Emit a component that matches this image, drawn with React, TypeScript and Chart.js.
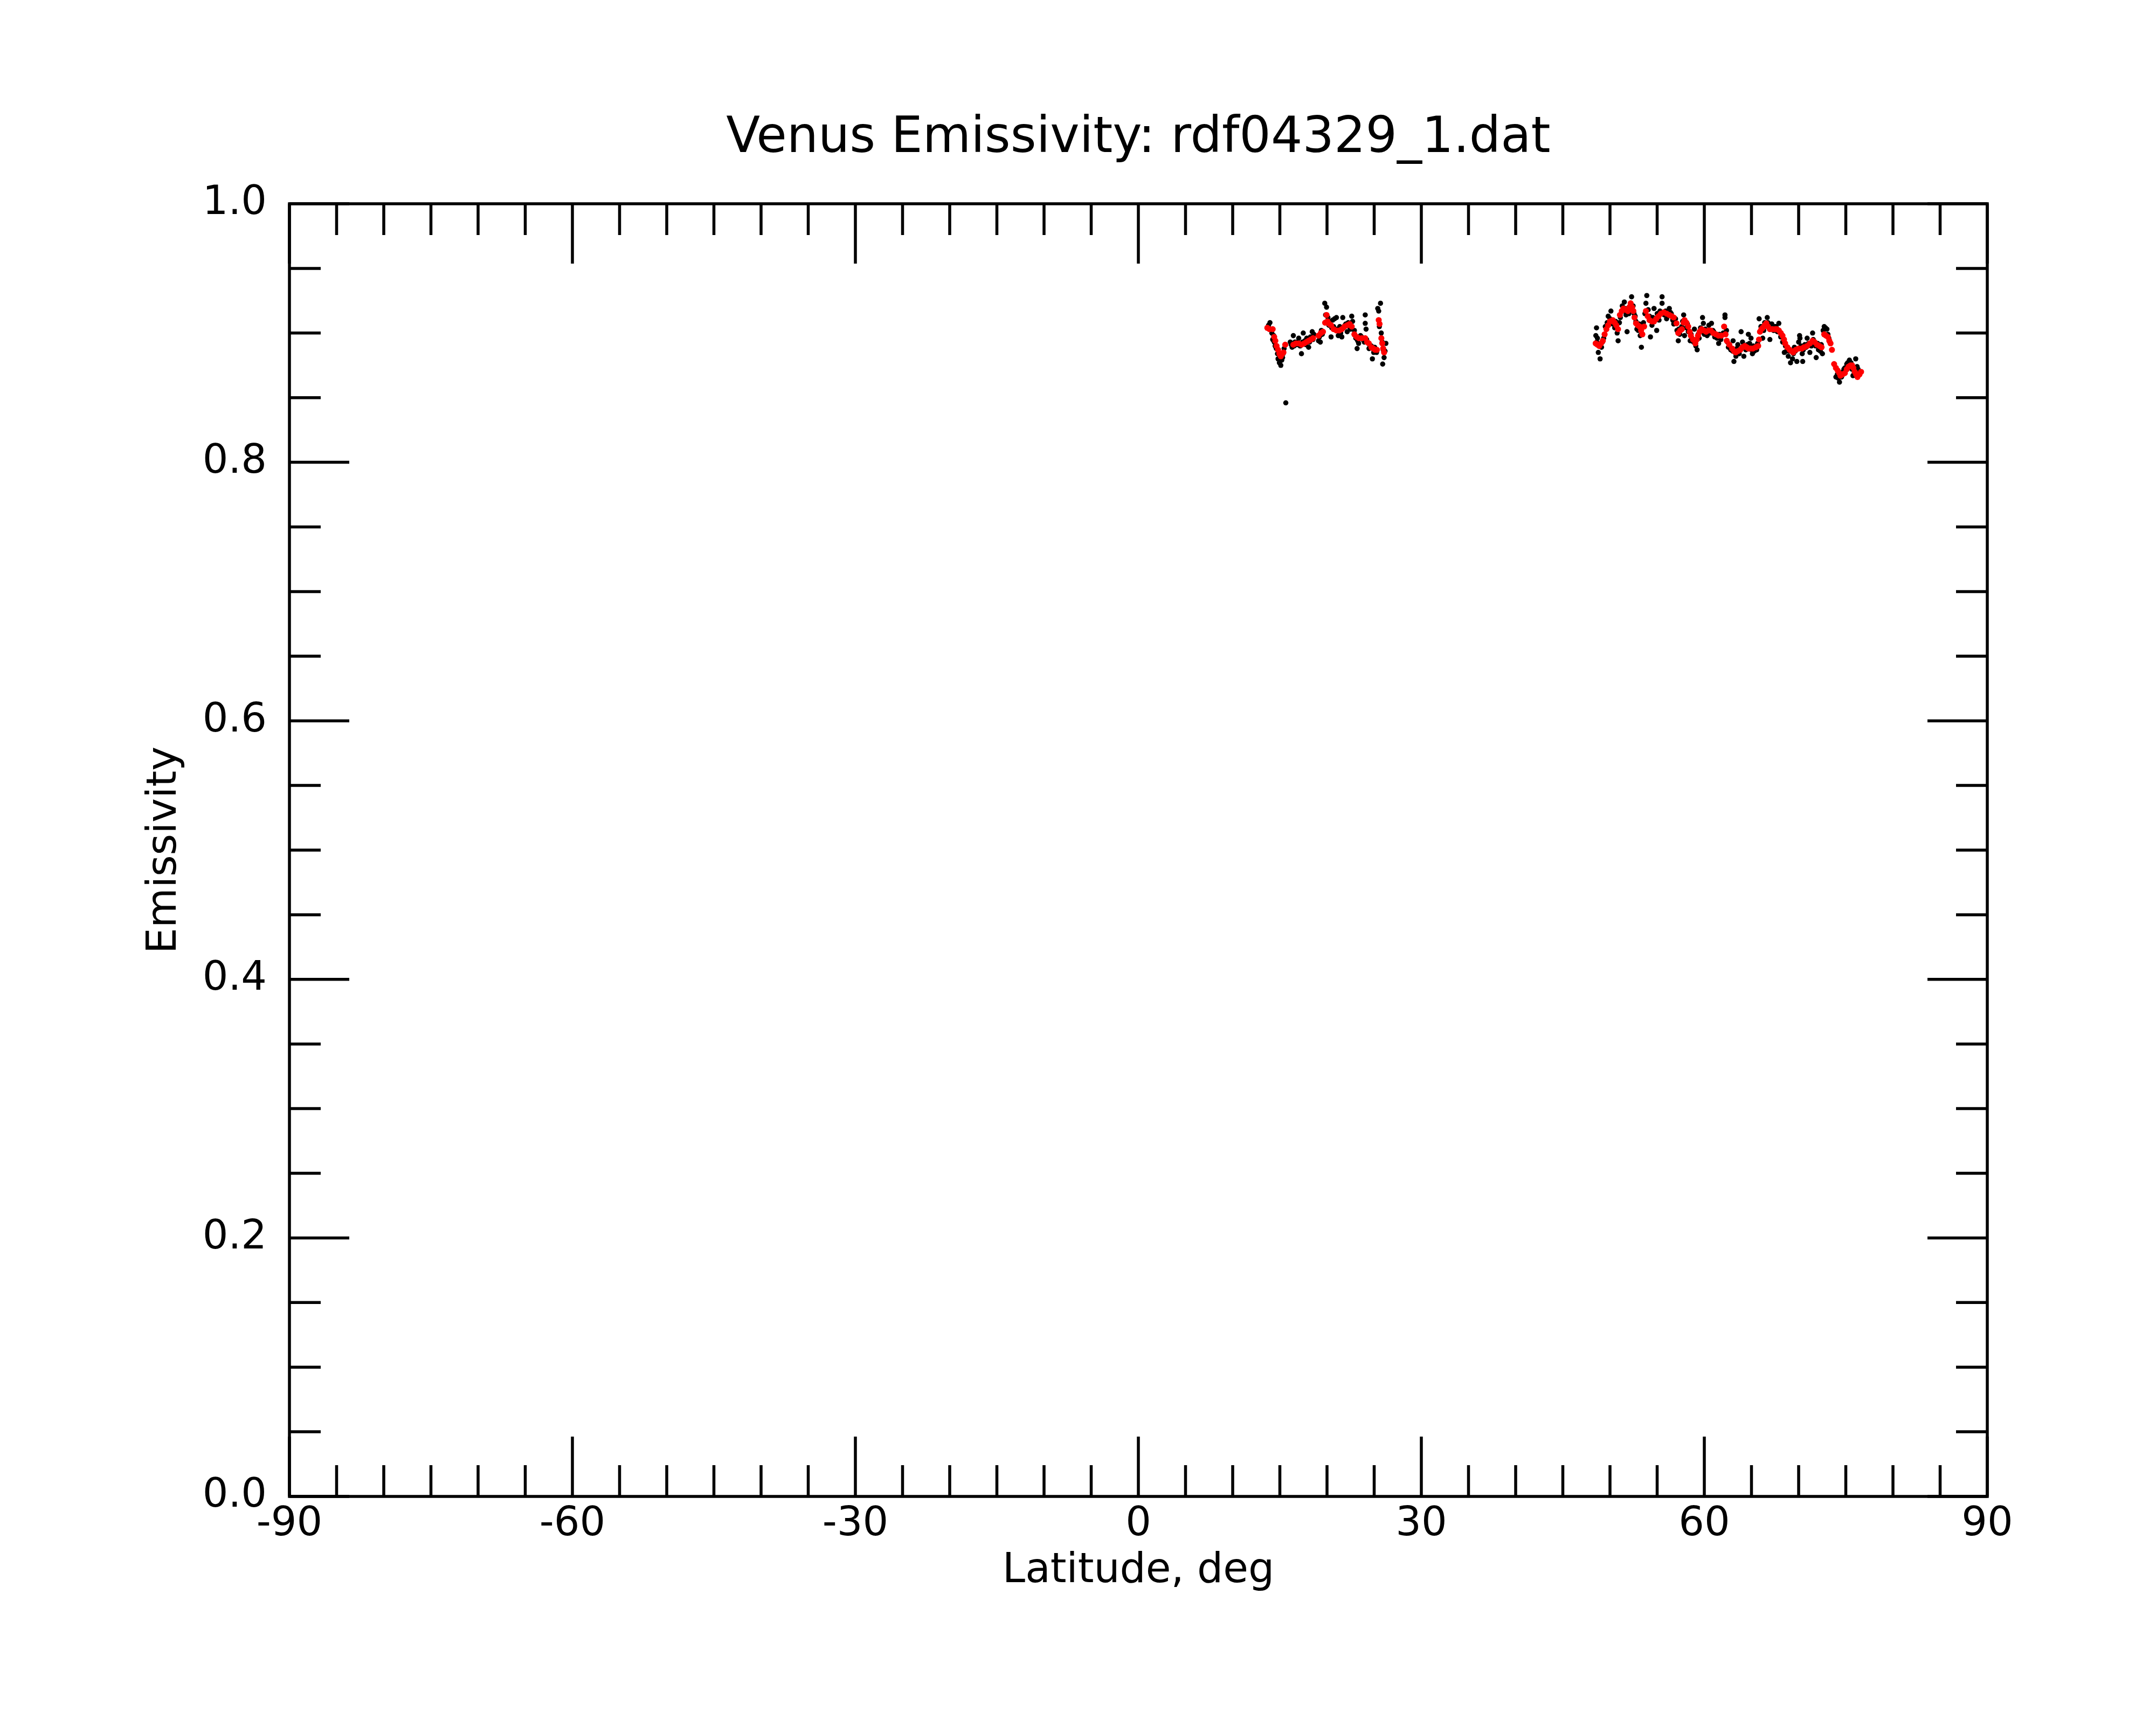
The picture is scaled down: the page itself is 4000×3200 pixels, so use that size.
import { useEffect, useRef } from "react";
import { Chart, registerables, ChartConfiguration, Plugin } from "chart.js";

Chart.register(...registerables);

const titleText = "Venus Emissivity: rdf04329_1.dat";
const xTitleText = "Latitude, deg";
const yTitleText = "Emissivity";

const xMajorTicks = [-90, -60, -30, 0, 30, 60, 90];
const yMajorTicks = [0, 0.2, 0.4, 0.6, 0.8, 1.0];
const xMinorStep = 5;
const yMinorStep = 0.05;

// raw samples (black dots)
const rawLat = [
  13.8, 13.95, 14.05, 14.24, 14.35, 14.5, 14.62, 14.75, 14.81, 14.95, 15.1, 15.2, 15.29, 15.45, 15.63,
  16.1, 16.3, 16.43, 16.6, 16.8, 17.0, 17.15, 17.29, 17.48, 17.65, 17.85, 18.05, 18.25, 18.43, 18.6,
  19.1, 19.29, 19.5, 19.76, 19.95, 20.1, 20.25, 20.43, 20.6, 20.8, 21.0, 21.19, 21.35, 21.57, 21.67,
  21.9, 22.14, 22.35, 22.62, 22.71, 22.9, 23.19, 23.35, 23.55, 23.8, 24.05, 24.05, 24.14, 24.3, 24.55,
  24.81, 24.95, 25.15, 25.38, 25.48, 25.67, 25.75, 25.85, 25.9, 26.05, 26.15, 26.24,
  14.15, 14.4, 15.0, 15.35, 16.2, 16.5, 16.9, 17.4, 17.75, 18.15, 18.5, 19.2, 19.4, 19.85, 20.2,
  20.5, 20.7, 21.1, 21.45, 21.75, 22.0, 22.25, 22.5, 23.05, 23.25, 23.65, 23.95, 24.2, 24.45, 24.7,
  25.05, 25.25, 25.55, 25.95,
  48.5, 48.57, 48.67, 48.76, 48.95, 49.1, 49.33, 49.5, 49.81, 50.1, 50.3, 50.5, 50.76, 50.86, 51.1,
  51.3, 51.52, 51.7, 51.81, 52.0, 52.29, 52.45, 52.67, 52.85, 53.0, 53.2, 53.33, 53.55, 53.81, 53.9,
  54.05, 54.19, 54.29, 54.45, 54.67, 54.8, 54.95, 55.2, 55.52, 55.52, 55.75, 56.0, 56.29, 56.5, 56.76,
  56.95, 57.1, 57.24, 57.4, 57.6, 57.81, 57.9, 58.1, 58.3, 58.5, 58.7, 58.95, 59.1, 59.24, 59.45,
  59.6, 59.81, 59.9, 60.1, 60.3, 60.48, 60.6, 60.76, 61.0, 61.2, 61.35, 61.52, 61.75, 62.0, 62.19,
  62.19, 62.35, 62.55, 62.8, 63.05, 63.14, 63.35, 63.55, 63.7, 63.9, 64.05, 64.19, 64.4, 64.67, 64.8,
  64.95, 65.1, 65.3, 65.55, 65.81, 66.0, 66.19, 66.4, 66.67, 66.85, 66.95, 67.15, 67.35, 67.6, 67.9,
  68.1, 68.3, 68.48, 68.7, 68.9, 69.14, 69.35, 69.55, 69.81, 70.0, 70.1, 70.14, 70.38, 70.43, 70.65,
  70.9, 71.19, 71.35, 71.48, 71.65, 71.86, 72.1, 72.3, 72.52, 72.71, 72.85, 73.0, 73.2, 73.95, 74.1,
  74.33, 74.55, 74.71, 74.9, 75.1, 75.38, 75.55, 75.76, 76.05, 76.2,
  48.6, 49.2, 49.7, 50.0, 50.2, 50.6, 51.0, 51.4, 51.6, 52.1, 52.55, 52.75, 53.1, 53.7, 54.3,
  54.55, 55.0, 55.3, 55.9, 56.1, 56.4, 56.65, 57.3, 57.7, 58.2, 58.6, 58.85, 59.35, 59.7, 60.0,
  60.9, 61.1, 61.6, 62.45, 62.7, 63.0, 63.25, 63.45, 64.3, 64.55, 65.0, 65.2, 65.65, 66.3, 66.5,
  66.75, 67.05, 67.45, 67.75, 68.2, 68.6, 69.0, 69.45, 69.65, 70.25, 70.5, 70.8, 71.05, 71.55, 71.8,
  72.0, 72.4, 72.6, 73.1, 74.2, 74.45, 74.8, 75.2, 75.45, 75.65, 75.9, 76.3,
];
const rawEmis = [
  0.906, 0.908, 0.903, 0.895, 0.898, 0.89, 0.888, 0.884, 0.88, 0.877, 0.875, 0.879, 0.881, 0.888, 0.846,
  0.893, 0.889, 0.898, 0.893, 0.891, 0.896, 0.89, 0.884, 0.9, 0.894, 0.896, 0.889, 0.897, 0.901, 0.899,
  0.894, 0.893, 0.899, 0.923, 0.92, 0.912, 0.909, 0.897, 0.91, 0.911, 0.912, 0.898, 0.905, 0.897, 0.912,
  0.906, 0.901, 0.905, 0.913, 0.909, 0.902, 0.888, 0.892, 0.898, 0.895, 0.914, 0.9075, 0.903, 0.893, 0.89,
  0.88, 0.885, 0.887, 0.919, 0.917, 0.923, 0.9, 0.893, 0.876, 0.881, 0.886, 0.892,
  0.9, 0.893, 0.879, 0.884, 0.891, 0.89, 0.893, 0.893, 0.891, 0.893, 0.895, 0.897, 0.902, 0.914, 0.906,
  0.904, 0.905, 0.903, 0.9, 0.904, 0.907, 0.908, 0.903, 0.896, 0.894, 0.897, 0.893, 0.895, 0.888, 0.89,
  0.889, 0.885, 0.905, 0.887,
  0.898, 0.904, 0.896, 0.885, 0.88, 0.889, 0.896, 0.905, 0.913, 0.917, 0.907, 0.904, 0.9, 0.894, 0.912,
  0.921, 0.924, 0.914, 0.901, 0.915, 0.928, 0.921, 0.913, 0.903, 0.902, 0.898, 0.889, 0.908, 0.923, 0.929,
  0.918, 0.913, 0.897, 0.906, 0.919, 0.911, 0.902, 0.91, 0.928, 0.923, 0.914, 0.911, 0.919, 0.915, 0.907,
  0.911, 0.902, 0.894, 0.899, 0.905, 0.914, 0.898, 0.904, 0.901, 0.894, 0.896, 0.903, 0.89, 0.887, 0.896,
  0.904, 0.912, 0.9075, 0.903, 0.898, 0.906, 0.9, 0.9075, 0.901, 0.897, 0.896, 0.892, 0.895, 0.9, 0.914,
  0.912, 0.902, 0.889, 0.887, 0.894, 0.878, 0.882, 0.891, 0.884, 0.901, 0.893, 0.882, 0.887, 0.899, 0.892,
  0.896, 0.884, 0.886, 0.887, 0.911, 0.905, 0.896, 0.908, 0.912, 0.904, 0.895, 0.907, 0.902, 0.905, 0.9075,
  0.897, 0.893, 0.885, 0.886, 0.882, 0.877, 0.88, 0.889, 0.878, 0.893, 0.898, 0.896, 0.884, 0.878, 0.891,
  0.896, 0.885, 0.89, 0.9, 0.893, 0.881, 0.887, 0.886, 0.884, 0.905, 0.904, 0.903, 0.896, 0.866, 0.868,
  0.862, 0.866, 0.87, 0.873, 0.876, 0.879, 0.877, 0.867, 0.88, 0.874,
  0.893, 0.893, 0.908, 0.911, 0.91, 0.909, 0.908, 0.917, 0.919, 0.919, 0.915, 0.909, 0.907, 0.915, 0.91,
  0.912, 0.915, 0.917, 0.917, 0.913, 0.916, 0.91, 0.903, 0.909, 0.907, 0.899, 0.893, 0.899, 0.901, 0.899,
  0.902, 0.897, 0.899, 0.893, 0.89, 0.886, 0.885, 0.888, 0.889, 0.891, 0.887, 0.89, 0.892, 0.902, 0.906,
  0.908, 0.903, 0.905, 0.901, 0.899, 0.89, 0.886, 0.884, 0.886, 0.89, 0.887, 0.889, 0.892, 0.895, 0.89,
  0.892, 0.891, 0.902, 0.899, 0.865, 0.868, 0.872, 0.877, 0.874, 0.872, 0.869, 0.872,
];

// smoothed samples (red dots)
const smoothLat = [
  13.67, 13.9, 14.24, 14.4, 14.52, 14.65, 14.81, 14.95, 15.1, 15.25, 15.38, 15.57, 16.43, 16.7, 17.0,
  17.3, 17.57, 17.8, 18.05, 18.3, 18.52, 19.1, 19.35, 19.57, 19.8, 19.95, 20.05, 20.25, 20.43, 20.7,
  21.0, 21.3, 21.57, 21.85, 22.14, 22.4, 22.62, 22.9, 23.15, 23.38, 23.7, 24.05, 24.25, 24.43, 24.7,
  24.9, 25.1, 25.29, 25.48, 25.57, 25.76, 25.86, 25.95, 26.05,
  48.48, 48.67, 48.86, 49.05, 49.24, 49.43, 49.62, 49.8, 50.0, 50.29, 50.5, 50.67, 50.85, 51.05, 51.25,
  51.43, 51.65, 51.9, 52.05, 52.19, 52.35, 52.48, 52.6, 52.76, 52.95, 53.14, 53.3, 53.43, 53.62, 53.81,
  54.0, 54.19, 54.45, 54.67, 54.9, 55.14, 55.4, 55.71, 56.0, 56.29, 56.55, 56.76, 57.05, 57.24, 57.45,
  57.62, 57.8, 57.9, 58.1, 58.29, 58.45, 58.57, 58.8, 59.05, 59.2, 59.33, 59.5, 59.71, 59.95, 60.19,
  60.45, 60.67, 60.95, 61.24, 61.5, 61.81, 62.1, 62.25, 62.38, 62.65, 62.95, 63.15, 63.33, 63.55, 63.81,
  64.05, 64.29, 64.5, 64.67, 64.9, 65.14, 65.45, 65.71, 65.8, 65.9, 66.05, 66.19, 66.4, 66.57, 66.75,
  66.95, 67.25, 67.52, 67.7, 67.9, 68.1, 68.29, 68.45, 68.57, 68.8, 69.05, 69.25, 69.43, 69.7, 70.0,
  70.33, 70.57, 70.9, 71.2, 71.48, 71.7, 71.95, 72.2, 72.43, 72.71, 72.9, 73.1, 73.25, 73.38, 73.53,
  73.76, 73.95, 74.14, 74.3, 74.43, 74.65, 74.9, 75.1, 75.29, 75.5, 75.67, 75.8, 75.95, 76.1, 76.24,
  76.45, 76.62,
];
const smoothEmis = [
  0.904, 0.903, 0.903, 0.897, 0.894, 0.89, 0.887, 0.884, 0.882, 0.884, 0.885, 0.891, 0.891, 0.892, 0.892,
  0.891, 0.892, 0.893, 0.894, 0.895, 0.896, 0.898, 0.9, 0.901, 0.908, 0.914, 0.909, 0.907, 0.906, 0.903,
  0.902, 0.902, 0.903, 0.905, 0.906, 0.907, 0.905, 0.899, 0.897, 0.896, 0.896, 0.896, 0.893, 0.892, 0.889,
  0.888, 0.887, 0.887, 0.91, 0.907, 0.896, 0.892, 0.888, 0.885,
  0.892, 0.891, 0.89, 0.892, 0.894, 0.899, 0.903, 0.906, 0.909, 0.91, 0.908, 0.906, 0.903, 0.914, 0.917,
  0.919, 0.918, 0.917, 0.92, 0.923, 0.92, 0.917, 0.912, 0.9075, 0.906, 0.905, 0.902, 0.899, 0.905, 0.917,
  0.913, 0.91, 0.909, 0.909, 0.911, 0.913, 0.915, 0.916, 0.915, 0.914, 0.913, 0.912, 0.9075, 0.9, 0.902,
  0.903, 0.908, 0.91, 0.908, 0.905, 0.901, 0.898, 0.895, 0.892, 0.895, 0.898, 0.901, 0.903, 0.902, 0.901,
  0.902, 0.902, 0.9, 0.899, 0.898, 0.898, 0.905, 0.899, 0.894, 0.891, 0.888, 0.886, 0.885, 0.886, 0.887,
  0.889, 0.89, 0.889, 0.888, 0.888, 0.888, 0.889, 0.89, 0.895, 0.901, 0.903, 0.904, 0.906, 0.9075, 0.905,
  0.903, 0.903, 0.903, 0.903, 0.902, 0.9, 0.898, 0.895, 0.892, 0.889, 0.887, 0.886, 0.885, 0.887, 0.888,
  0.888, 0.889, 0.89, 0.892, 0.894, 0.893, 0.891, 0.89, 0.889, 0.899, 0.898, 0.897, 0.894, 0.892, 0.887,
  0.876, 0.873, 0.871, 0.869, 0.867, 0.868, 0.869, 0.872, 0.874, 0.875, 0.875, 0.873, 0.87, 0.868, 0.866,
  0.868, 0.87,
];

const FONT = "DejaVu Sans";
const CANVAS_W = 4000;
const CANVAS_H = 3200;

const frameAndTicks: Plugin = {
  id: "frameAndTicks",
  afterDraw(chart) {
    const { ctx, chartArea } = chart;
    const xs = chart.scales.x;
    const ys = chart.scales.y;
    const { left, right, top, bottom } = chartArea;
    const majorLen = 111;
    const minorLen = 58;
    ctx.save();
    ctx.strokeStyle = "#000";
    ctx.lineWidth = 5.5;
    ctx.lineCap = "butt";
    ctx.strokeRect(left, top, right - left, bottom - top);

    ctx.beginPath();
    for (let v = -90; v <= 90; v += xMinorStep) {
      const px = xs.getPixelForValue(v);
      const len = xMajorTicks.includes(v) ? majorLen : minorLen;
      ctx.moveTo(px, bottom);
      ctx.lineTo(px, bottom - len);
      ctx.moveTo(px, top);
      ctx.lineTo(px, top + len);
    }
    for (let i = 0; i <= 20; i++) {
      const v = i * yMinorStep;
      const py = ys.getPixelForValue(v);
      const len = i % 4 === 0 ? majorLen : minorLen;
      ctx.moveTo(left, py);
      ctx.lineTo(left + len, py);
      ctx.moveTo(right, py);
      ctx.lineTo(right - len, py);
    }
    ctx.stroke();

    ctx.fillStyle = "#000";
    ctx.textAlign = "center";
    ctx.textBaseline = "alphabetic";
    const cx = (left + right) / 2;
    ctx.font = `92px "${FONT}"`;
    ctx.fillText(titleText, cx, 282);
    ctx.font = `76px "${FONT}"`;
    ctx.fillText(xTitleText, cx, 2935);
    ctx.translate(326, (top + bottom) / 2);
    ctx.rotate(-Math.PI / 2);
    ctx.fillText(yTitleText, 0, 0);
    ctx.restore();
  },
};

export default function App() {
  const chartRef = useRef<HTMLCanvasElement | null>(null);

  useEffect(() => {
    document.body.style.margin = "0";
    if (!chartRef.current) return;

    const config: ChartConfiguration<"scatter"> = {
      type: "scatter",
      data: {
        datasets: [
          {
            label: "smoothed",
            data: smoothLat.map((x, i) => ({ x, y: smoothEmis[i] })),
            backgroundColor: "#ff0000",
            borderWidth: 0,
            pointRadius: 5.6,
            pointHoverRadius: 5.6,
          },
          {
            label: "raw",
            data: rawLat.map((x, i) => ({ x, y: rawEmis[i] })),
            backgroundColor: "#000000",
            borderWidth: 0,
            pointRadius: 4.8,
            pointHoverRadius: 4.8,
          },
        ],
      },
      options: {
        responsive: false,
        animation: false,
        devicePixelRatio: 1,
        events: [],
        layout: { padding: { top: 378, right: 313, bottom: 0, left: 0 } },
        plugins: {
          legend: { display: false },
          tooltip: { enabled: false },
          title: { display: false },
        },
        scales: {
          x: {
            type: "linear",
            position: "bottom",
            min: -90,
            max: 90,
            grid: { display: false, drawTicks: false },
            border: { display: false },
            ticks: {
              padding: 8,
              color: "#000",
              font: { family: FONT, size: 75 },
              maxRotation: 0,
              autoSkip: false,
              callback: (v) => String(v),
            },
            afterBuildTicks: (scale) => {
              scale.ticks = xMajorTicks.map((value) => ({ value }));
            },
            afterFit: (scale) => {
              scale.height = CANVAS_H - 2776;
            },
          },
          y: {
            type: "linear",
            position: "left",
            min: 0,
            max: 1,
            grid: { display: false, drawTicks: false },
            border: { display: false },
            ticks: {
              padding: 42,
              color: "#000",
              font: { family: FONT, size: 75 },
              autoSkip: false,
              callback: (v) => Number(v).toFixed(1),
            },
            afterBuildTicks: (scale) => {
              scale.ticks = yMajorTicks.map((value) => ({ value }));
            },
            afterFit: (scale) => {
              scale.width = 537;
            },
          },
        },
      },
      plugins: [frameAndTicks],
    };

    const chart = new Chart(chartRef.current, config);
    return () => {
      chart.destroy();
    };
  }, []);

  return (
    <div style={{ width: CANVAS_W, height: CANVAS_H, background: "#fff" }}>
      <canvas ref={chartRef} width={CANVAS_W} height={CANVAS_H} style={{ width: CANVAS_W, height: CANVAS_H }}></canvas>
    </div>
  );
}
